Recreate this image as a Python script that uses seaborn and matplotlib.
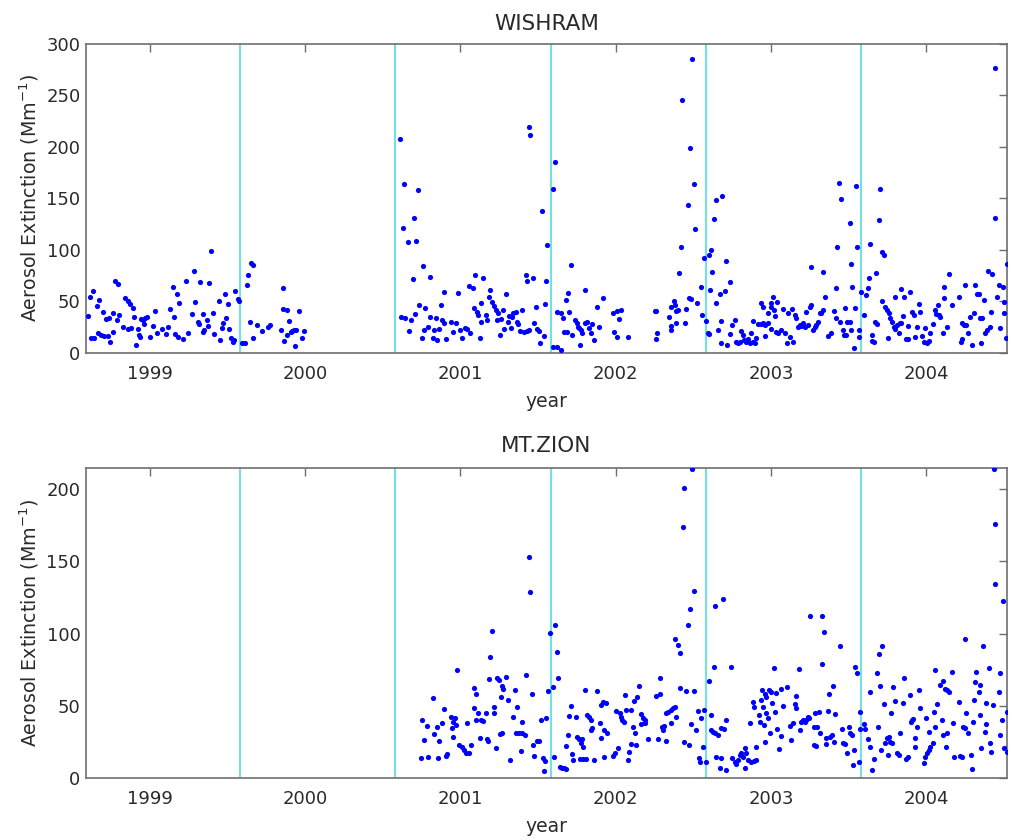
import matplotlib
matplotlib.use("Agg")
import matplotlib.pyplot as plt
import seaborn as sns
import pandas as pd

# ---- WISHRAM: sample time (decimal year) and extinction (Mm^-1) ----
wishram_year = [
    1998.599, 1998.614, 1998.635, 1998.620, 1998.642, 1998.657, 1998.674, 1998.663, 1998.685, 1998.706,
    1998.727, 1998.700, 1998.717, 1998.738, 1998.745, 1998.760, 1998.764, 1998.777, 1998.796, 1998.785,
    1998.803, 1998.824, 1998.839, 1998.861, 1998.871, 1998.856, 1998.878, 1998.893, 1998.899, 1998.910,
    1998.921, 1998.931, 1998.936, 1998.942, 1998.957, 1998.970, 1998.981, 1998.964, 1999.002, 1999.021,
    1999.034, 1999.047, 1999.077, 1999.103, 1999.114, 1999.131, 1999.150, 1999.157, 1999.163, 1999.172,
    1999.189, 1999.180, 1999.210, 1999.232, 1999.247, 1999.270, 1999.285, 1999.292, 1999.307, 1999.313,
    1999.324, 1999.339, 1999.350, 1999.343, 1999.365, 1999.371, 1999.382, 1999.391, 1999.403, 1999.410,
    1999.446, 1999.453, 1999.464, 1999.468, 1999.485, 1999.489, 1999.504, 1999.511, 1999.521, 1999.532,
    1999.543, 1999.549, 1999.564, 1999.571, 1999.590, 1999.612, 1999.624, 1999.633, 1999.654, 1999.667,
    1999.646, 1999.665, 1999.689, 1999.721, 1999.758, 1999.773, 1999.843, 1999.854, 1999.854, 1999.882,
    1999.865, 1999.897, 1999.886, 1999.908, 1999.918, 1999.929, 1999.940, 1999.936, 1999.961, 1999.979,
    1999.994,
    2000.609, 2000.637, 2000.627, 2000.663, 2000.702, 2000.715, 2000.727, 2000.760, 2000.697, 2000.805,
    2000.616, 2000.642, 2000.670, 2000.680, 2000.706, 2000.734, 2000.755, 2000.770, 2000.766, 2000.792,
    2000.805, 2000.820, 2000.830, 2000.841, 2000.852, 2000.863, 2000.873, 2000.884, 2000.891, 2000.906,
    2000.895, 2000.938, 2000.955, 2000.970, 2000.981, 2000.998, 2001.013, 2001.028, 2001.045, 2001.062,
    2001.056, 2001.082, 2001.094, 2001.088, 2001.105, 2001.114, 2001.131, 2001.135, 2001.146, 2001.124,
    2001.163, 2001.174, 2001.185, 2001.191, 2001.206, 2001.217, 2001.227, 2001.234, 2001.242, 2001.255,
    2001.264, 2001.277, 2001.281, 2001.292, 2001.303, 2001.313, 2001.324, 2001.335, 2001.341, 2001.356,
    2001.363, 2001.373, 2001.384, 2001.399, 2001.410, 2001.427, 2001.442, 2001.421, 2001.431, 2001.464,
    2001.442, 2001.448, 2001.474, 2001.485, 2001.496, 2001.506, 2001.513, 2001.528, 2001.543, 2001.549,
    2001.560, 2001.539, 2001.607, 2001.597, 2001.599, 2001.620, 2001.650, 2001.624, 2001.646, 2001.663,
    2001.693, 2001.682, 2001.700, 2001.710, 2001.667, 2001.685, 2001.721, 2001.738, 2001.749, 2001.758,
    2001.764, 2001.775, 2001.785, 2001.800, 2001.818, 2001.828, 2001.839, 2001.850, 2001.803, 2001.770,
    2001.861, 2001.878, 2001.893, 2001.918, 2001.985, 2002.011, 2002.036, 2001.989, 2002.011, 2002.021,
    2002.079,
    2002.251, 2002.262, 2002.258, 2002.268, 2002.341, 2002.354, 2002.358, 2002.358, 2002.373, 2002.380,
    2002.391, 2002.401, 2002.386, 2002.406, 2002.418, 2002.429, 2002.444, 2002.455, 2002.466, 2002.476,
    2002.472, 2002.487, 2002.494, 2002.502, 2002.509, 2002.524, 2002.552, 2002.558, 2002.569, 2002.584,
    2002.599, 2002.616, 2002.594, 2002.599, 2002.609, 2002.620, 2002.631, 2002.648, 2002.687, 2002.708,
    2002.648, 2002.670, 2002.659, 2002.702, 2002.738, 2002.680, 2002.715, 2002.680, 2002.734, 2002.751,
    2002.766, 2002.777, 2002.788, 2002.798, 2002.809, 2002.820, 2002.826, 2002.841, 2002.852, 2002.863,
    2002.873, 2002.884, 2002.895, 2002.906, 2002.884, 2002.916, 2002.933, 2002.948, 2002.964, 2002.981,
    2002.998, 2002.938, 2002.948, 2002.998, 2002.959, 2002.981, 2003.013, 2003.041, 2003.002, 2003.019,
    2003.028, 2003.034, 2003.045, 2003.062, 2003.077, 2003.088, 2003.105, 2003.109, 2003.120, 2003.142,
    2003.135, 2003.152, 2003.163, 2003.174, 2003.185, 2003.195, 2003.206, 2003.217, 2003.227, 2003.238,
    2003.249, 2003.260, 2003.270, 2003.281, 2003.292, 2003.303, 2003.313, 2003.324, 2003.335, 2003.255,
    2003.335, 2003.345, 2003.367, 2003.388, 2003.406, 2003.421, 2003.427, 2003.436, 2003.453, 2003.421,
    2003.442, 2003.464, 2003.479, 2003.491, 2003.506, 2003.517, 2003.470, 2003.485, 2003.506, 2003.513,
    2003.524, 2003.534, 2003.549, 2003.556, 2003.539,
    2003.564, 2003.564, 2003.582, 2003.597, 2003.612, 2003.622, 2003.629, 2003.635, 2003.650, 2003.650,
    2003.661, 2003.672, 2003.682, 2003.678, 2003.693, 2003.700, 2003.715, 2003.725, 2003.715, 2003.736,
    2003.747, 2003.758, 2003.751, 2003.768, 2003.779, 2003.790, 2003.800, 2003.811, 2003.822, 2003.828,
    2003.837, 2003.800, 2003.839, 2003.850, 2003.858, 2003.871, 2003.882, 2003.880, 2003.897, 2003.908,
    2003.918, 2003.929, 2003.940, 2003.951, 2003.961, 2003.972, 2003.987, 2004.004, 2004.015, 2003.994,
    2004.026, 2004.043, 2004.058, 2004.073, 2004.064, 2004.079, 2004.090, 2004.112, 2004.116, 2004.107,
    2004.133, 2004.148, 2004.165, 2004.208, 2004.230, 2004.240, 2004.258, 2004.223, 2004.230, 2004.251,
    2004.266, 2004.279, 2004.294, 2004.309, 2004.315, 2004.326, 2004.337, 2004.343, 2004.358, 2004.354,
    2004.369, 2004.380, 2004.391, 2004.397, 2004.423, 2004.408, 2004.416, 2004.442, 2004.444, 2004.455,
    2004.466, 2004.494, 2004.476, 2004.502, 2004.502, 2004.517, 2004.515,
]
wishram_ext = [
    35.9, 54.7, 60.5, 14.2, 14.9, 45.6, 51.5, 19.7, 17.5, 16.5,
    16.5, 39.8, 33.0, 33.7, 10.4, 39.2, 20.1, 69.3, 66.7, 32.0,
    36.6, 24.9, 53.1, 50.5, 47.6, 23.3, 23.9, 43.4, 34.6, 7.4,
    23.3, 17.5, 15.9, 32.7, 32.0, 33.7, 35.3, 28.2, 15.2, 26.5,
    40.8, 19.1, 23.3, 18.4, 25.6, 42.7, 63.8, 35.3, 18.4, 57.3,
    48.9, 15.2, 13.6, 69.9, 19.7, 37.5, 79.6, 49.8, 30.4, 28.2,
    68.9, 20.7, 22.3, 37.5, 32.0, 26.2, 68.3, 98.7, 39.2, 18.1,
    50.8, 12.6, 23.9, 28.8, 57.3, 33.7, 47.6, 23.0, 14.2, 11.0,
    12.6, 60.5, 52.1, 50.8, 10.0, 9.4, 66.0, 75.7, 87.7, 85.4,
    29.8, 14.2, 26.9, 21.4, 24.9, 26.9, 22.3, 62.8, 42.4, 41.7,
    11.7, 31.1, 17.5, 20.7, 21.7, 22.3, 22.3, 6.8, 41.1, 14.2,
    21.4,
    207.4, 164.1, 121.0, 107.8, 130.7, 108.7, 157.9, 84.5, 71.8, 73.8,
    34.6, 34.0, 21.7, 32.0, 37.9, 46.6, 14.9, 43.4, 22.3, 25.6,
    34.6, 14.2, 22.3, 33.7, 12.6, 23.0, 46.6, 32.0, 28.8, 13.3,
    58.9, 30.4, 20.7, 28.8, 57.9, 22.3, 14.2, 23.9, 23.0, 19.1,
    65.4, 62.8, 75.7, 43.4, 40.1, 36.9, 48.9, 30.4, 72.5, 14.2,
    36.9, 32.0, 54.7, 61.2, 49.8, 45.6, 41.7, 32.0, 39.2, 17.5,
    32.7, 41.7, 23.0, 57.0, 30.4, 35.9, 23.9, 35.3, 38.5, 40.1,
    30.4, 28.2, 21.7, 41.7, 20.1, 21.7, 22.3, 75.7, 69.3, 72.5,
    219.1, 211.7, 28.8, 45.0, 23.0, 21.7, 10.0, 137.2, 47.2, 69.6,
    104.5, 16.5, 185.1, 158.9, 6.1, 5.5, 2.9, 40.1, 39.2, 33.7,
    58.6, 51.1, 39.5, 85.4, 20.1, 20.7, 17.5, 32.0, 28.8, 25.6,
    23.9, 22.3, 19.1, 28.8, 30.4, 23.9, 19.1, 28.2, 61.2, 7.8,
    12.6, 44.3, 25.6, 53.1, 39.2, 41.1, 41.7, 20.7, 15.9, 32.7,
    15.9,
    41.1, 41.1, 13.6, 19.7, 35.3, 22.3, 26.2, 45.0, 50.5, 46.6,
    41.1, 41.7, 28.8, 77.3, 103.2, 245.3, 28.8, 42.4, 143.7, 199.0,
    53.1, 52.4, 285.4, 163.8, 120.1, 48.2, 63.8, 36.9, 91.9, 31.4,
    95.1, 100.0, 19.7, 18.4, 61.2, 78.3, 129.8, 148.2, 152.4, 89.3,
    48.2, 57.3, 22.3, 60.5, 68.6, 9.4, 7.8, 31.4, 18.4, 26.9,
    32.0, 11.0, 10.0, 11.0, 21.7, 17.5, 12.6, 11.0, 13.3, 9.4,
    19.1, 11.0, 9.4, 14.9, 31.1, 28.2, 28.2, 28.8, 27.2, 28.8,
    23.6, 48.2, 45.0, 48.2, 16.5, 38.5, 54.0, 49.8, 45.0, 41.7,
    35.9, 20.7, 19.1, 22.3, 43.0, 19.1, 9.4, 38.5, 15.9, 11.0,
    42.4, 36.9, 33.7, 25.6, 27.2, 26.2, 28.8, 24.9, 40.1, 27.2,
    45.0, 46.6, 22.3, 25.6, 27.2, 30.4, 39.2, 38.5, 41.7, 83.2,
    78.3, 54.0, 16.5, 19.1, 41.1, 62.8, 103.2, 164.7, 149.2, 33.7,
    30.4, 22.3, 43.4, 30.4, 30.4, 22.3, 17.5, 17.5, 125.9, 86.1,
    63.8, 4.5, 161.5, 103.2, 43.4,
    22.3, 15.9, 59.5, 36.9, 56.3, 62.8, 72.5, 105.8, 17.5, 11.7,
    11.0, 30.4, 27.8, 77.3, 128.8, 159.2, 97.4, 95.1, 50.8, 45.0,
    41.7, 39.2, 14.9, 33.7, 30.4, 25.6, 23.0, 27.2, 19.7, 28.8,
    29.4, 54.7, 61.8, 35.9, 54.0, 13.3, 13.6, 26.2, 58.9, 40.1,
    36.9, 15.9, 25.6, 47.2, 40.1, 16.5, 11.0, 10.0, 12.0, 23.9,
    19.7, 27.8, 41.7, 46.6, 37.9, 36.9, 35.3, 63.8, 53.1, 19.7,
    24.9, 76.4, 46.6, 54.0, 28.8, 27.2, 27.2, 11.0, 13.3, 66.0,
    19.1, 35.3, 7.8, 38.5, 66.0, 57.3, 57.3, 34.3, 33.7, 10.0,
    51.5, 19.1, 22.3, 79.6, 76.4, 25.6, 40.1, 276.7, 130.7, 54.7,
    66.0, 63.8, 23.9, 49.8, 38.5, 86.4, 14.9,
]

# ---- MT.ZION: sample time (decimal year) and extinction (Mm^-1) ----
zion_year = [
    2000.755, 2000.762, 2000.749, 2000.792, 2000.783, 2000.824, 2000.830, 2000.848, 2000.878, 2000.863,
    2000.856, 2000.895, 2000.906, 2000.916, 2000.938, 2000.955, 2000.948, 2000.970, 2000.964, 2000.955,
    2000.976, 2000.991, 2001.013, 2001.024, 2001.034, 2001.056, 2001.071, 2001.045, 2001.084, 2001.099,
    2001.084, 2001.099, 2001.114, 2001.135, 2001.148, 2001.163, 2001.124, 2001.174, 2001.180, 2001.191,
    2001.202, 2001.185, 2001.217, 2001.217, 2001.227, 2001.238, 2001.249, 2001.270, 2001.277, 2001.294,
    2001.260, 2001.270, 2001.255, 2001.303, 2001.320, 2001.341, 2001.352, 2001.356, 2001.378, 2001.399,
    2001.416, 2001.367, 2001.393, 2001.397, 2001.421, 2001.442, 2001.448, 2001.459, 2001.464, 2001.474,
    2001.491, 2001.506, 2001.517, 2001.549, 2001.534, 2001.545, 2001.539, 2001.564, 2001.575, 2001.597,
    2001.607, 2001.603, 2001.624, 2001.629, 2001.642, 2001.657, 2001.667, 2001.682, 2001.682, 2001.695,
    2001.710, 2001.700, 2001.747, 2001.721, 2001.725, 2001.749, 2001.764, 2001.775, 2001.785, 2001.792,
    2001.770, 2001.792, 2001.807, 2001.800, 2001.818, 2001.828, 2001.839, 2001.839, 2001.850, 2001.861,
    2001.878, 2001.903, 2001.921, 2001.936, 2001.897, 2001.903, 2001.925, 2001.942, 2001.925,
    2001.998, 2002.015, 2001.983, 2002.000, 2002.026, 2002.036, 2002.041, 2002.054, 2002.058, 2002.069,
    2002.101, 2002.079, 2002.084, 2002.097, 2002.118, 2002.137, 2002.112, 2002.122, 2002.133, 2002.148,
    2002.161, 2002.176, 2002.187, 2002.191, 2002.165, 2002.208, 2002.262, 2002.283, 2002.283, 2002.273,
    2002.298, 2002.305, 2002.311, 2002.326, 2002.326, 2002.337, 2002.358, 2002.369, 2002.380, 2002.358,
    2002.391, 2002.380, 2002.401, 2002.416, 2002.412, 2002.440, 2002.451, 2002.466, 2002.476, 2002.504,
    2002.504, 2002.470, 2002.483, 2002.519, 2002.530, 2002.534, 2002.545, 2002.552, 2002.562, 2002.569,
    2002.584, 2002.599, 2002.616, 2002.627, 2002.637, 2002.616, 2002.631, 2002.642, 2002.691, 2002.648,
    2002.680, 2002.670, 2002.712, 2002.659, 2002.680, 2002.697, 2002.712, 2002.740, 2002.751, 2002.766,
    2002.777, 2002.788, 2002.798, 2002.809, 2002.820, 2002.830, 2002.841, 2002.852, 2002.873, 2002.891,
    2002.906, 2002.835, 2002.863, 2002.884, 2002.891, 2002.906, 2002.921, 2002.927, 2002.944, 2002.959,
    2002.970, 2002.985, 2003.002, 2002.938, 2002.948, 2002.970, 2002.981, 2002.955, 2002.964, 2002.991,
    2003.006, 2003.017, 2003.024, 2003.034, 2003.041, 2003.049, 2003.066, 2003.105, 2003.077, 2003.066,
    2003.120, 2003.131, 2003.142, 2003.152, 2003.163, 2003.163, 2003.178, 2003.185, 2003.195, 2003.206,
    2003.217, 2003.227, 2003.238, 2003.243, 2003.249,
    2003.285, 2003.307, 2003.275, 2003.296, 2003.279, 2003.292, 2003.313, 2003.328, 2003.339, 2003.328,
    2003.356, 2003.356, 2003.382, 2003.393, 2003.408, 2003.365, 2003.371, 2003.397, 2003.414, 2003.446,
    2003.457, 2003.464, 2003.479, 2003.489, 2003.500, 2003.511, 2003.521, 2003.536, 2003.528, 2003.543,
    2003.554, 2003.564, 2003.575, 2003.571, 2003.597, 2003.607, 2003.624, 2003.639, 2003.635, 2003.650,
    2003.661, 2003.682, 2003.687, 2003.693, 2003.715, 2003.700, 2003.710, 2003.725, 2003.736, 2003.747,
    2003.758, 2003.751, 2003.768, 2003.779, 2003.773, 2003.785, 2003.800, 2003.811, 2003.822, 2003.828,
    2003.850, 2003.858, 2003.871, 2003.880, 2003.897, 2003.901, 2003.908, 2003.914, 2003.929, 2003.929,
    2003.940, 2003.951, 2003.961, 2003.987, 2003.994, 2004.004, 2004.015, 2004.026, 2004.043, 2004.000,
    2004.015, 2004.047, 2004.058, 2004.054, 2004.069, 2004.086, 2004.107, 2004.101, 2004.107, 2004.133,
    2004.122, 2004.133, 2004.144, 2004.129, 2004.165, 2004.172, 2004.180, 2004.208, 2004.219, 2004.230,
    2004.236, 2004.251, 2004.251, 2004.258, 2004.266, 2004.288, 2004.294, 2004.300, 2004.309, 2004.315,
    2004.322, 2004.337, 2004.348, 2004.343, 2004.352, 2004.365, 2004.376, 2004.382, 2004.386, 2004.401,
    2004.408, 2004.416, 2004.429, 2004.440, 2004.468, 2004.476, 2004.472, 2004.487, 2004.494, 2004.502,
    2004.517, 2004.517,
    2002.494, 2002.440, 2002.432, 2004.438, 2004.446,
]
zion_ext = [
    40.0, 26.1, 13.4, 14.1, 35.8, 55.0, 30.1, 35.4, 37.7, 25.7,
    13.4, 47.6, 15.0, 16.2, 42.3, 38.8, 34.2, 36.5, 41.1, 28.4,
    74.7, 22.7, 21.5, 19.2, 17.3, 16.9, 22.7, 38.1, 62.0, 58.0,
    48.1, 40.0, 45.1, 40.0, 39.3, 44.6, 27.3, 26.8, 25.4, 83.7,
    101.7, 68.2, 44.6, 49.2, 20.3, 69.3, 67.7, 63.8, 61.3, 69.6,
    56.2, 30.7, 30.1, 53.9, 12.3, 41.8, 60.8, 30.7, 31.2, 30.7,
    29.6, 48.8, 18.7, 38.4, 71.2, 152.8, 129.0, 58.0, 22.7, 15.0,
    25.7, 25.4, 40.0, 41.1, 13.4, 11.8, 4.6, 60.3, 100.1, 63.1,
    105.9, 14.6, 86.9, 69.3, 7.6, 6.5, 6.9, 5.8, 22.0, 29.6,
    49.7, 42.8, 41.8, 16.2, 12.3, 28.4, 26.6, 23.8, 26.6, 21.5,
    12.7, 12.7, 12.7, 60.8, 43.5, 42.3, 40.0, 33.1, 34.2, 12.3,
    60.1, 50.4, 52.7, 51.5, 37.7, 27.3, 33.1, 30.7, 14.6,
    16.9, 20.3, 15.0, 46.5, 44.6, 42.3, 40.0, 38.8, 57.3, 46.9,
    46.9, 12.3, 18.0, 23.3, 53.4, 56.2, 35.4, 30.7, 22.7, 63.6,
    44.2, 41.1, 40.0, 37.7, 37.2, 26.6, 56.6, 58.0, 69.3, 26.6,
    35.4, 33.1, 35.8, 25.4, 44.6, 45.8, 46.9, 48.1, 49.2, 38.1,
    41.8, 95.9, 92.0, 86.2, 62.0, 25.0, 60.3, 105.9, 117.0, 129.4,
    60.3, 22.7, 37.0, 33.1, 46.5, 13.4, 11.1, 41.1, 21.5, 46.9,
    11.1, 66.8, 33.1, 31.9, 30.7, 43.5, 76.7, 119.0, 123.7, 14.6,
    13.4, 6.5, 5.3, 29.6, 34.2, 33.5, 40.0, 76.7, 13.4, 11.1,
    9.5, 12.3, 15.7, 16.9, 14.6, 20.3, 17.3, 12.3, 11.1, 11.8,
    12.3, 6.9, 37.7, 52.7, 48.8, 21.5, 43.5, 38.8, 60.8, 58.0,
    56.2, 60.8, 59.6, 53.9, 49.2, 44.6, 41.1, 36.5, 25.0, 30.7,
    52.0, 75.8, 45.8, 58.5, 33.5, 19.6, 61.3, 63.1, 49.7, 28.9,
    35.8, 26.1, 38.1, 51.1, 56.6, 48.1, 75.4, 33.1, 38.8, 40.0,
    38.8, 40.0, 42.3, 41.1, 112.1,
    45.1, 45.3, 34.9, 34.9, 22.7, 22.0, 31.2, 112.1, 100.8, 78.6,
    27.3, 23.3, 28.4, 29.6, 25.0, 46.2, 58.0, 63.6, 44.2, 91.3,
    33.5, 24.3, 23.3, 17.3, 35.4, 30.7, 29.6, 19.2, 8.8, 77.0,
    72.4, 11.1, 45.8, 33.5, 37.0, 33.5, 26.6, 21.5, 59.2, 5.3,
    12.7, 72.8, 34.9, 85.8, 91.3, 63.6, 19.2, 50.9, 23.8, 27.3,
    28.4, 15.7, 25.0, 23.8, 45.1, 62.6, 53.2, 16.9, 15.7, 31.2,
    51.5, 68.9, 12.7, 14.6, 57.3, 38.8, 40.0, 40.5, 27.3, 21.5,
    35.4, 60.8, 48.1, 9.9, 14.6, 16.9, 19.2, 21.5, 23.8, 41.1,
    31.9, 45.8, 34.9, 74.7, 50.9, 64.3, 67.3, 40.0, 29.6, 31.2,
    61.5, 60.8, 59.6, 21.5, 73.0, 37.7, 14.1, 52.2, 15.0, 14.6,
    35.4, 34.2, 95.9, 44.6, 30.7, 15.7, 5.8, 38.8, 53.9, 66.6,
    73.0, 59.6, 64.3, 43.5, 20.3, 91.3, 31.9, 51.5, 37.2, 75.8,
    23.8, 18.0, 50.4, 134.3, 59.2, 72.4, 29.6, 40.0, 122.5, 20.3,
    18.0, 45.8,
    214.0, 200.6, 173.6, 214.0, 176.0,
]

# Start of each sampling season (vertical reference lines)
season_starts = [1999.58, 2000.58, 2001.58, 2002.58, 2003.58]
year_ticks = [1999, 2000, 2001, 2002, 2003, 2004]

panels = [
    ("WISHRAM", wishram_year, wishram_ext, 300, [0, 50, 100, 150, 200, 250, 300], 9.5),
    ("MT.ZION", zion_year, zion_ext, 215, [0, 50, 100, 150, 200], 11),
]

sns.set_style("white")
plt.rcParams["font.family"] = ["DejaVu Sans"]
plt.rcParams["mathtext.default"] = "regular"

text_col = "#2a2a2a"
spine_col = "#6e6e6e"

fig = plt.figure(figsize=(10.09, 8.40), dpi=100)
axes = [
    fig.add_axes([0.0852, 0.5798, 0.9128, 0.3684]),
    fig.add_axes([0.0852, 0.0742, 0.9128, 0.3690]),
]

for ax, (title, yrs, ext, ymax, yt, tpad) in zip(axes, panels):
    df = pd.DataFrame({"year": yrs, "ext": ext})
    for s in season_starts:
        ax.axvline(s, color="#72e0e6", lw=1.5, zorder=1)
    sns.scatterplot(data=df, x="year", y="ext", ax=ax, color="#0000ff",
                    s=14, linewidth=0, marker="o", zorder=3)
    ax.set_xlim(1998.588, 2004.52)
    ax.set_ylim(0, ymax)
    ax.set_xticks(year_ticks)
    ax.set_xticklabels([str(y) for y in year_ticks])
    ax.set_yticks(yt)
    ax.tick_params(direction="in", length=6, width=1, color=spine_col,
                   top=True, right=True, labelsize=13, labelcolor=text_col)
    ax.tick_params(axis="x", pad=9)
    ax.tick_params(axis="y", pad=4)
    for sp in ax.spines.values():
        sp.set_color(spine_col)
        sp.set_linewidth(1.2)
    ax.set_title(title, fontsize=15.5, color=text_col, pad=tpad)
    ax.set_xlabel("year", fontsize=13.5, color=text_col, labelpad=6)
    ax.set_ylabel(r"Aerosol Extinction (Mm$^{-1}$)", fontsize=13.7,
                  color=text_col, labelpad=4)

fig.savefig("out.png", dpi=100)
